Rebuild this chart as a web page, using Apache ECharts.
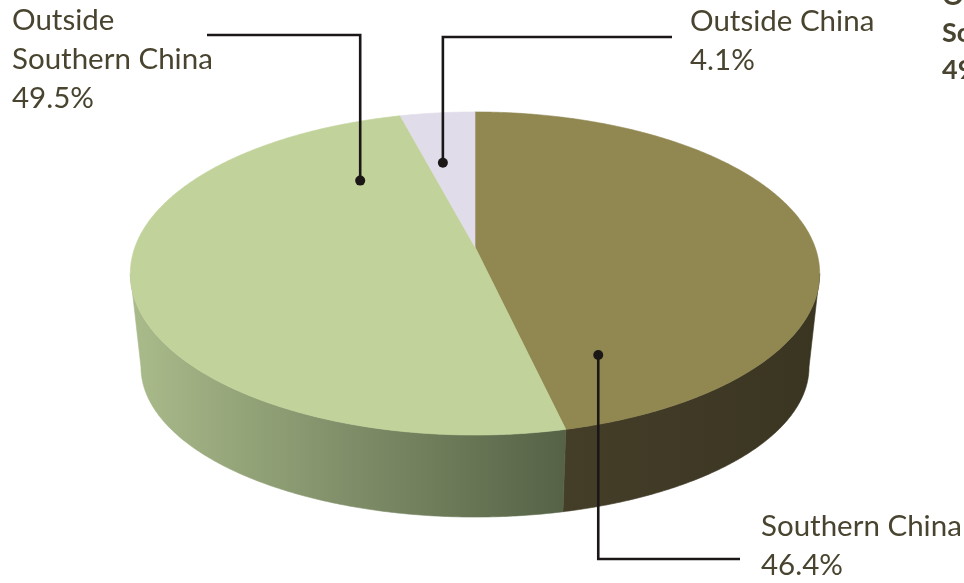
<!DOCTYPE html>
<html>
<head>
<meta charset="utf-8">
<style>
  html, body { margin: 0; padding: 0; background: #ffffff; }
  #chart { width: 964px; height: 583px; }
</style>
<script src="https://cdn.jsdelivr.net/npm/echarts@6/dist/echarts.min.js"></script>
</head>
<body>
<div id="chart"></div>
<script>
// Regional split of revenue (share of total, %)
const regions = ['Southern China', 'Outside Southern China', 'Outside China'];
const labelNames = ['Southern China', 'Outside\nSouthern China', 'Outside China'];
const shares = [46.4, 49.5, 4.1];

// Slice colours: top face and side wall gradient (left -> right)
const topColors = ['#918751', '#c1d39b', '#e1dcea'];
const sideColors = [['#443e29', '#3a3521'], ['#aabb8b', '#556246'], ['#c9c3d2', '#a9a3b3']];

// Where each leader line touches its slice: fraction along the slice's arc, fraction of radius
const anchorAlong = [0.911, 0.866, 0.322];
const anchorRadius = [0.698, 0.581, 0.596];
// Leader elbow / label placement
const elbowY = [559, 35, 37];
const lineEndX = [740, 207, 672];
const labelX = [761, 12, 690];
const labelY = [507, 1, 2];

// Perspective projection of the pie disc (top and bottom faces)
const K = 0.164;
const TOP = { cx: 475, cy: 247, A: 340, B: 157.2 };
const BOTTOM = { cx: 475, cy: 342.4, A: 329.5, B: 146 };
const SIL_RIGHT = 180 - Math.acos(K) * 180 / Math.PI; // silhouette angles
const SIL_LEFT = 360 - SIL_RIGHT;

function proj(thetaDeg, r, face) {
  const t = thetaDeg * Math.PI / 180;
  const u = r * Math.sin(t);
  const v = -r * Math.cos(t);
  const d = 1 - K * v;
  return [face.cx + face.A * u / d, face.cy + face.B * v / d];
}

const total = shares.reduce((a, b) => a + b, 0);
function sliceRange(i) {
  let start = 0;
  for (let j = 0; j < i; j++) start += shares[j];
  return [start / total * 360, (start + shares[i]) / total * 360];
}
function arc(a, b, r, face) {
  const pts = [];
  const n = Math.max(2, Math.ceil(Math.abs(b - a) / 0.5));
  for (let s = 0; s <= n; s++) pts.push(proj(a + (b - a) * s / n, r, face));
  return pts;
}

const seriesData = shares.map((v, i) => ({ name: regions[i], value: v }));

function renderSide(params, api) {
  const i = params.dataIndex;
  const [a, b] = sliceRange(i);
  const lo = Math.max(a, SIL_RIGHT), hi = Math.min(b, SIL_LEFT);
  if (hi <= lo) return null;
  const top = arc(lo, hi, 1, TOP);
  const bottom = arc(lo, hi, 1, BOTTOM).reverse();
  const xs = top.concat(bottom).map(p => p[0]);
  const fill = {
    type: 'linear', global: true,
    x: Math.min(...xs), y: 0, x2: Math.max(...xs), y2: 0,
    colorStops: [{ offset: 0, color: sideColors[i][0] }, { offset: 1, color: sideColors[i][1] }]
  };
  return {
    type: 'polygon',
    shape: { points: top.concat(bottom) },
    style: { fill: fill, stroke: fill, lineWidth: 0.6 }
  };
}

function renderTop(params, api) {
  const i = params.dataIndex;
  const [a, b] = sliceRange(i);
  const pts = [proj(0, 0, TOP)].concat(arc(a, b, 1, TOP));
  return {
    type: 'polygon',
    shape: { points: pts },
    style: { fill: topColors[i], stroke: topColors[i], lineWidth: 0.6 }
  };
}

function renderLabel(params, api) {
  const i = params.dataIndex;
  const [a, b] = sliceRange(i);
  const dot = proj(a + (b - a) * anchorAlong[i], anchorRadius[i], TOP);
  const value = api.value(0);
  return {
    type: 'group',
    children: [
      {
        type: 'polyline',
        shape: { points: [dot, [dot[0], elbowY[i]], [lineEndX[i], elbowY[i]]] },
        style: { stroke: '#1c1717', lineWidth: 2.6, fill: null }
      },
      {
        type: 'circle',
        shape: { cx: dot[0], cy: dot[1], r: 5 },
        style: { fill: '#1c1717' }
      },
      {
        type: 'text',
        style: {
          text: labelNames[i] + '\n' + value.toFixed(1) + '%',
          x: labelX[i], y: labelY[i],
          fill: '#48442f',
          font: '29.5px Lato, "Liberation Sans", sans-serif',
          lineHeight: 39,
          align: 'left', verticalAlign: 'top'
        }
      }
    ]
  };
}

const chart = echarts.init(document.getElementById('chart'), null, { renderer: 'canvas' });
chart.setOption({
  backgroundColor: '#ffffff',
  animation: false,
  graphic: [{
    type: 'text',
    left: 942, top: -22,
    style: {
      text: labelNames[1] + '\n' + shares[1].toFixed(1) + '%',
      fill: '#48442f',
      font: 'bold 27px Lato, "Liberation Sans", sans-serif',
      lineHeight: 37
    }
  }],
  series: [
    { type: 'custom', coordinateSystem: 'none', data: seriesData, renderItem: renderSide, z: 1, silent: true },
    { type: 'custom', coordinateSystem: 'none', data: seriesData, renderItem: renderTop, z: 2, silent: true },
    { type: 'custom', coordinateSystem: 'none', data: seriesData, renderItem: renderLabel, z: 3, silent: true }
  ]
});
</script>
</body>
</html>
